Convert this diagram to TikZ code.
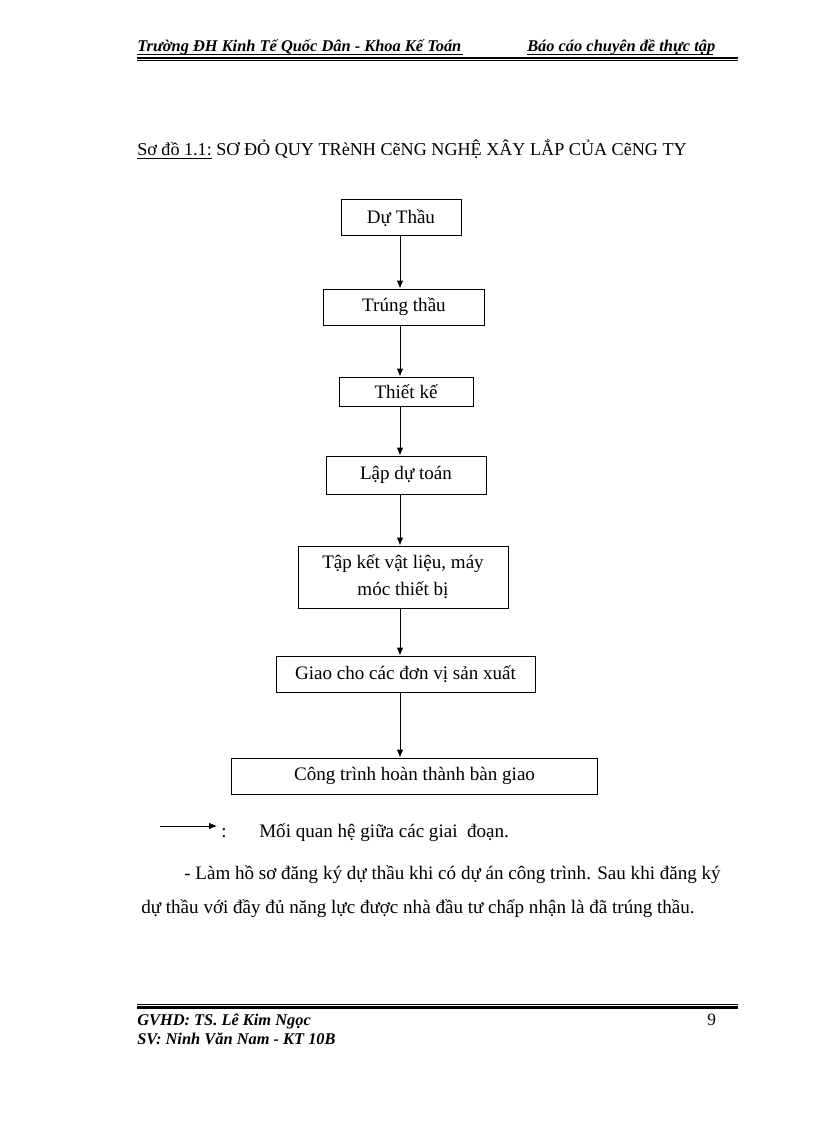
\documentclass[tikz,border=0pt]{standalone}
\usepackage{fontspec}
\setmainfont{Liberation Serif}
\usetikzlibrary{arrows.meta,positioning}

\tikzset{
  stage/.style={draw, line width=0.75pt, inner sep=0pt, minimum height=27pt, align=center, font=\fontsize{14.3pt}{20pt}\selectfont},
  arr/.style={-{Latex[length=6pt,width=5pt]}, line width=0.75pt},
  txt/.style={anchor=base west, inner sep=0pt, font=\fontsize{14.3pt}{17pt}\selectfont},
  hdr/.style={anchor=base west, inner sep=0pt, font=\fontsize{12.3pt}{15pt}\selectfont\bfseries\itshape}
}

\begin{document}
\begin{tikzpicture}[x=0.75pt,y=-0.75pt]
\useasboundingbox (0,0) rectangle (816,1123);

% header
\node[hdr] (hdl) at (137,52) {Trường ĐH Kinh Tế Quốc Dân - Khoa Kế Toán};
\node[hdr] (hdr) at (527,52) {Báo cáo chuyên đề thực tập};
\draw[line width=0.75pt] (hdl.base west) ++(0,2.5) -- (463,54.5);
\draw[line width=0.75pt] (hdr.base west) ++(0,2.5) -- (713,54.5);
\draw[line width=2pt] (137,58) -- (738,58);
\draw[line width=0.75pt] (137,61) -- (738,61);

% title
\node[txt, font=\fontsize{13.6pt}{16pt}\selectfont] (ttl) at (137,156) {\underline{Sơ đồ 1.1:} SƠ ĐỎ QUY TRèNH CẽNG NGHỆ XÂY LẮP CỦA CẽNG TY};

% stages
\node[stage, minimum width=90pt] (dt) at (401,218) {Dự Thầu};
\node[stage, minimum width=120.75pt] (tt) at (404,307) {Trúng thầu};
\node[stage, minimum width=100.5pt, minimum height=21.75pt] (tk) at (406,391.5) {Thiết kế};
\node[stage, minimum width=120pt, minimum height=28.5pt] (ldt) at (406,475) {Lập dự toán};
\node[stage, minimum width=157.5pt, minimum height=46.5pt] (tkv) at (403,577) {Tập kết vật liệu, máy\\móc thiết bị};
\node[stage, minimum width=194.25pt] (gc) at (405.5,674) {Giao cho các đơn vị sản xuất};
\node[stage, minimum width=274pt] (ct) at (414.5,776) {Công trình hoàn thành bàn giao};

\coordinate (spine) at (400,0);
\foreach \a/\b in {dt/tt, tt/tk, tk/ldt, ldt/tkv, tkv/gc, gc/ct}
  \draw[arr] (\a.south -| spine) -- (\b.north -| spine);

% legend
\coordinate (lgA) at (160,826);
\coordinate (lgB) at (217,826);
\draw[arr] (lgA) -- (lgB);
\node[txt] (lgc) at (221,837) {:};
\node[txt] (lgt) at (259,837) {Mối quan hệ giữa các giai\ \ đoạn.};

% paragraph
\node[txt] (p1) at (184,879) {- Làm hồ sơ đăng ký dự thầu khi\ có dự án\ công trình. Sau khi\ đăng ký};
\node[txt] (p2) at (141,913) {dự thầu với đầy đủ năng lực được nhà\ đầu tư chấp nhận là\ đã trúng thầu.};

% footer
\draw[line width=0.75pt] (137,1004) -- (738,1004);
\draw[line width=2pt] (137,1007.5) -- (738,1007.5);
\node[hdr] (gv) at (137,1025) {GVHD: TS. Lê Kim Ngọc};
\node[txt, font=\fontsize{13pt}{15pt}\selectfont] (pg) at (707,1025) {9};
\node[hdr] (sv) at (137,1044) {SV: Ninh Văn Nam - KT 10B};
\end{tikzpicture}
\end{document}
